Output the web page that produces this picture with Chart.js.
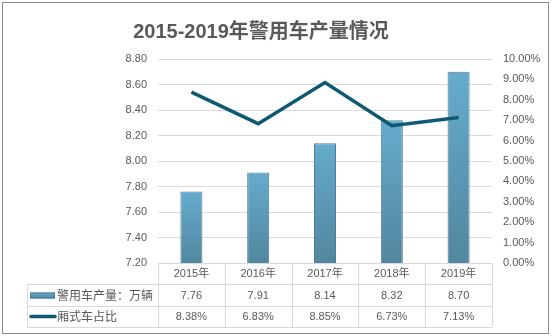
<!DOCTYPE html>
<html>
<head>
<meta charset="utf-8">
<script src="https://cdn.jsdelivr.net/npm/chart.js@4.4.1/dist/chart.umd.min.js"></script>
<style>
  html, body { margin: 0; padding: 0; background: #fff; }
</style>
</head>
<body>
<canvas id="chart" width="552" height="336"></canvas>
<script>
const years = ['2015年', '2016年', '2017年', '2018年', '2019年'];
const output = [7.76, 7.91, 8.14, 8.32, 8.70];     // 警用车产量, 万辆
const vanShare = [8.38, 6.83, 8.85, 6.73, 7.13];   // 厢式车占比, %
const outputLabel = '警用车产量：万辆';
const shareLabel = '厢式车占比';
const chartTitle = '2015-2019年警用车产量情况';

const FONT = '"Liberation Sans", "Noto Sans CJK SC", sans-serif';
const CJK = '"Noto Sans CJK SC", sans-serif';
const TEXT = '#595959';
const GRID = '#d9d9d9';
const LINE = '#0e5a73';
const BAR_EDGE = '#4d7d96';

function barGradient(ctx, top, bottom) {
    const g = ctx.createLinearGradient(0, top, 0, bottom);
    g.addColorStop(0, '#66abcd');
    g.addColorStop(1, '#52869f');
    return g;
}

// title, frame and the data table under the plot
// (year header comes from the x axis, value rows and legend keys are drawn here)
const dataTable = {
    id: 'dataTable',
    afterDraw(chart) {
        const { ctx, chartArea: area, scales: { x } } = chart;
        const rows = [area.bottom, area.bottom + 21, area.bottom + 43, area.bottom + 64];
        const left = 27;
        const colW = (area.right - area.left) / years.length;

        ctx.save();
        ctx.fillStyle = TEXT;
        ctx.font = 'bold 20px ' + FONT;
        ctx.textAlign = 'center';
        ctx.textBaseline = 'middle';
        ctx.fillText(chartTitle, 261, 32);

        ctx.strokeStyle = GRID;
        ctx.lineWidth = 1;
        ctx.beginPath();
        ctx.moveTo(area.left, rows[0] + 0.5);
        ctx.lineTo(area.right, rows[0] + 0.5);
        for (let r = 1; r < rows.length; r++) {
            ctx.moveTo(left, rows[r] + 0.5);
            ctx.lineTo(area.right, rows[r] + 0.5);
        }
        ctx.moveTo(left + 0.5, rows[1]);
        ctx.lineTo(left + 0.5, rows[3]);
        for (let i = 0; i <= years.length; i++) {
            const cx = Math.round(area.left + i * colW) + 0.5;
            ctx.moveTo(cx, rows[0]);
            ctx.lineTo(cx, rows[3]);
        }
        ctx.stroke();

        // values
        ctx.fillStyle = TEXT;
        ctx.font = '11px ' + FONT;
        const y1 = (rows[1] + rows[2]) / 2 + 0.5;
        const y2 = (rows[2] + rows[3]) / 2;
        years.forEach((_, i) => {
            const cx = x.getPixelForValue(i);
            ctx.fillText(output[i].toFixed(2), cx, y1);
            ctx.fillText(vanShare[i].toFixed(2) + '%', cx, y2);
        });

        // legend keys
        ctx.fillStyle = barGradient(ctx, y1 - 3, y1 + 3);
        ctx.fillRect(30, y1 - 3, 25, 6);
        ctx.strokeStyle = BAR_EDGE;
        ctx.strokeRect(30.5, y1 - 2.5, 24, 5);

        ctx.strokeStyle = LINE;
        ctx.lineWidth = 3.5;
        ctx.lineCap = 'round';
        ctx.beginPath();
        ctx.moveTo(31, y2);
        ctx.lineTo(55, y2);
        ctx.stroke();

        ctx.fillStyle = TEXT;
        ctx.font = '12px ' + CJK;
        ctx.textAlign = 'left';
        ctx.fillText(outputLabel, 57, y1);
        ctx.fillText(shareLabel, 57, y2);

        // frame
        ctx.strokeStyle = '#898989';
        ctx.lineWidth = 1;
        ctx.strokeRect(2.5, 2.5, 546, 331);
        ctx.restore();
    }
};

new Chart(document.getElementById('chart'), {
    type: 'bar',
    data: {
        labels: years,
        datasets: [
            {
                type: 'line',
                label: shareLabel,
                data: vanShare,
                yAxisID: 'y1',
                borderColor: LINE,
                borderWidth: 3.5,
                pointRadius: 0,
                tension: 0,
                order: 0
            },
            {
                type: 'bar',
                label: outputLabel,
                data: output,
                yAxisID: 'y',
                backgroundColor: (c) => {
                    const chart = c.chart;
                    if (!chart.chartArea || c.type !== 'data') return '#5c9ab8';
                    const top = chart.scales.y.getPixelForValue(c.raw);
                    return barGradient(chart.ctx, top, chart.chartArea.bottom);
                },
                borderColor: BAR_EDGE,
                borderWidth: 1,
                categoryPercentage: 1,
                barPercentage: 0.33,
                order: 1
            }
        ]
    },
    options: {
        responsive: false,
        animation: false,
        layout: { padding: { left: 10, right: 4, top: 59, bottom: 3 } },
        plugins: {
            legend: { display: false },
            tooltip: { enabled: false }
        },
        scales: {
            x: {
                grid: { display: false, drawTicks: false },
                border: { display: false },
                ticks: { color: TEXT, font: { family: FONT, size: 11 }, padding: 4 },
                afterFit: (s) => { s.height = 70; }
            },
            y: {
                position: 'left',
                min: 7.2,
                max: 8.8,
                ticks: {
                    stepSize: 0.2,
                    padding: 11,
                    color: TEXT,
                    font: { family: FONT, size: 11 },
                    callback: (v) => v.toFixed(2)
                },
                grid: { color: GRID, drawTicks: false },
                border: { display: false },
                afterFit: (s) => { s.width = 148; }
            },
            y1: {
                position: 'right',
                min: 0,
                max: 10,
                ticks: {
                    stepSize: 1,
                    padding: 11,
                    color: TEXT,
                    font: { family: FONT, size: 11 },
                    callback: (v) => v.toFixed(2) + '%'
                },
                grid: { display: false, drawTicks: false },
                border: { display: false },
                afterFit: (s) => { s.width = 56; }
            }
        }
    },
    plugins: [dataTable]
});
</script>
</body>
</html>
